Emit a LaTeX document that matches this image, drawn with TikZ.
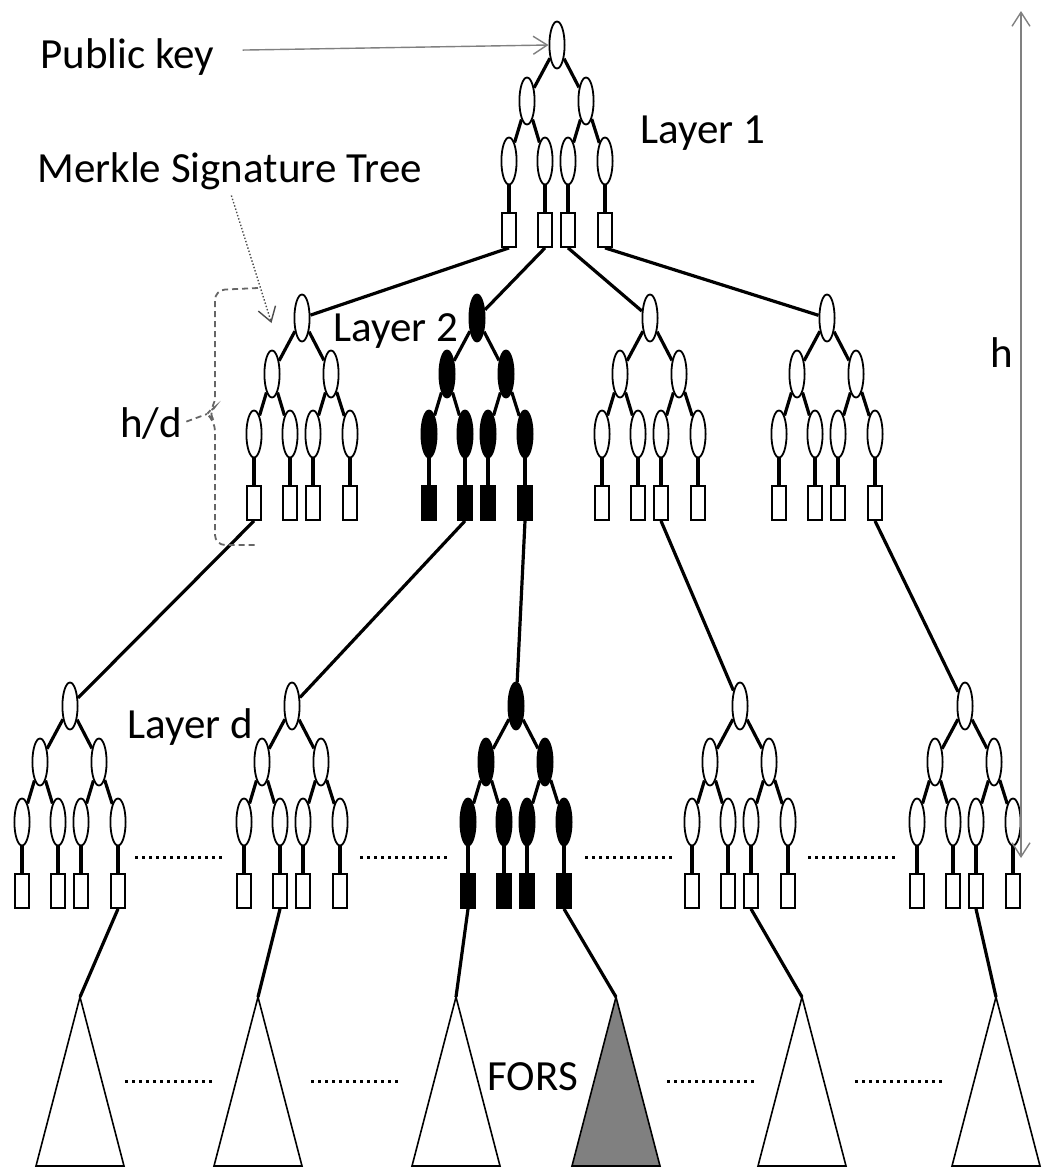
\documentclass[tikz,border=0pt]{standalone}
\usepackage{fontspec}
\setmainfont{Carlito}
\usepackage{tikz}
\usetikzlibrary{shapes,arrows.meta,positioning,calc}

\tikzset{
  hashnode/.style={ellipse, draw, fill=#1, line width=0.9pt, minimum width=7.6pt, minimum height=23.5pt, inner sep=0pt},
  leafnode/.style={rectangle, draw, fill=#1, line width=0.9pt, minimum width=7pt, minimum height=17pt, inner sep=0pt},
  edge/.style={line width=1.6pt},
  pointer/.style={gray, line width=0.7pt, >={Straight Barb[length=7pt,width=9pt]}},
  dotsep/.style={line width=1.5pt, dash pattern=on 1.5pt off 2pt},
  fors/.style={draw, line width=0.8pt},
  bracket/.style={gray!80!black, line width=0.9pt, dash pattern=on 3pt off 2pt, rounded corners=5pt},
  lbl/.style={font=\fontsize{21.5}{25}\selectfont, inner sep=0pt, anchor=base west}
}

% one Merkle tree: name, x, y, fill
\newcommand{\mtree}[4]{%
  \begin{scope}[shift={(#2,#3)}]
    \node[hashnode=#4] (#1) at (0,0) {};
    \node[hashnode=#4] (#1-1) at (-30,56) {};
    \node[hashnode=#4] (#1-2) at (29,56) {};
    \foreach \k/\dx in {1/-48,2/-12,3/11,4/48} {
      \node[hashnode=#4] (#1-g\k) at (\dx,116) {};
      \node[leafnode=#4] (#1-l\k) at (\dx,185) {};
      \draw[edge] (#1-g\k) -- (#1-l\k);
    }
    \draw[edge] (#1) -- (#1-1) (#1) -- (#1-2)
      (#1-1) -- (#1-g1) (#1-1) -- (#1-g2)
      (#1-2) -- (#1-g3) (#1-2) -- (#1-g4);
  \end{scope}}

\begin{document}
\begin{tikzpicture}[x=0.5pt,y=-0.5pt]
    \useasboundingbox (0,0) rectangle (1041,1167);
    % layer 1
    \mtree{T}{557}{45}{white}
    % layer 2
    \mtree{A}{302}{318}{white}
    \mtree{B}{477}{318}{black}
    \mtree{C}{650}{318}{white}
    \mtree{D}{827}{318}{white}
    % layer d
    \mtree{P}{70}{706}{white}
    \mtree{Q}{292}{706}{white}
    \mtree{R}{516}{706}{black}
    \mtree{S}{740}{706}{white}
    \mtree{U}{965}{706}{white}

    \draw[edge] (T-l1.south) -- (A) (T-l2.south) -- (B) (T-l3.south) -- (C) (T-l4.south) -- (D);
    \draw[edge] (A-l1.south) -- (P) (B-l2.south) -- (Q) (B-l4.south) -- (R)
      (C-l3.south) -- (S) (D-l4.south) -- (U);

    % FORS
    \foreach \n/\x/\c in {1/80/white,2/258/white,3/456/white,4/616/gray,5/802/white,6/996/white} {
      \coordinate (f\n) at (\x,997);
      \draw[fors, fill=\c] (f\n) -- ++(44,169) -- ++(-88,0) -- cycle;
    }
    \draw[edge] (P-l4.south) -- (f1) (Q-l2.south) -- (f2) (R-l1.south) -- (f3)
      (R-l4.south) -- (f4) (S-l3.south) -- (f5) (U-l3.south) -- (f6);

    % dots
    \foreach \a/\b in {135/225,360/450,585/675,808/898}
      \draw[dotsep] (\a,857) -- (\b,857);
    \foreach \a/\b in {125/212,311/402,667/757,855/945}
      \draw[dotsep] (\a,1081) -- (\b,1081);

    % labels
    \node[lbl] (pk) at (40,68) {Public key};
    \node[lbl] (mst) at (37,182) {Merkle Signature Tree};
    \node[lbl] (l1) at (640,143) {Layer 1};
    \node[lbl] (l2) at (333,341) {Layer 2};
    \node[lbl] (ld) at (127,738) {Layer d};
    \node[lbl] (hd) at (120,437) {h/d};
    \node[lbl] (hh) at (990,367) {h};
    \node[lbl] (fr) at (487,1090) {FORS};

    \draw[pointer,->, shorten <=14pt] ([yshift=3pt]pk.east) -- (T.west);
    \draw[pointer,->, black!70, densely dotted, shorten <=3pt] (mst.south) -- ([xshift=-11pt,yshift=-2.5pt]A.west);
    \coordinate (htop) at (1021,11);
    \coordinate (hbot) at (1021,858);
    \draw[pointer,<->] (htop) -- (hbot);

    % h/d bracket
    \coordinate (btip) at (207,414);
    \draw[bracket] (258,288) -- (215,290) -- (215,407) -- (btip) -- (215,421) -- (215,545) -- (258,545);
    \draw[bracket, shorten <=2pt] (hd.east) -- (btip);
\end{tikzpicture}
\end{document}
